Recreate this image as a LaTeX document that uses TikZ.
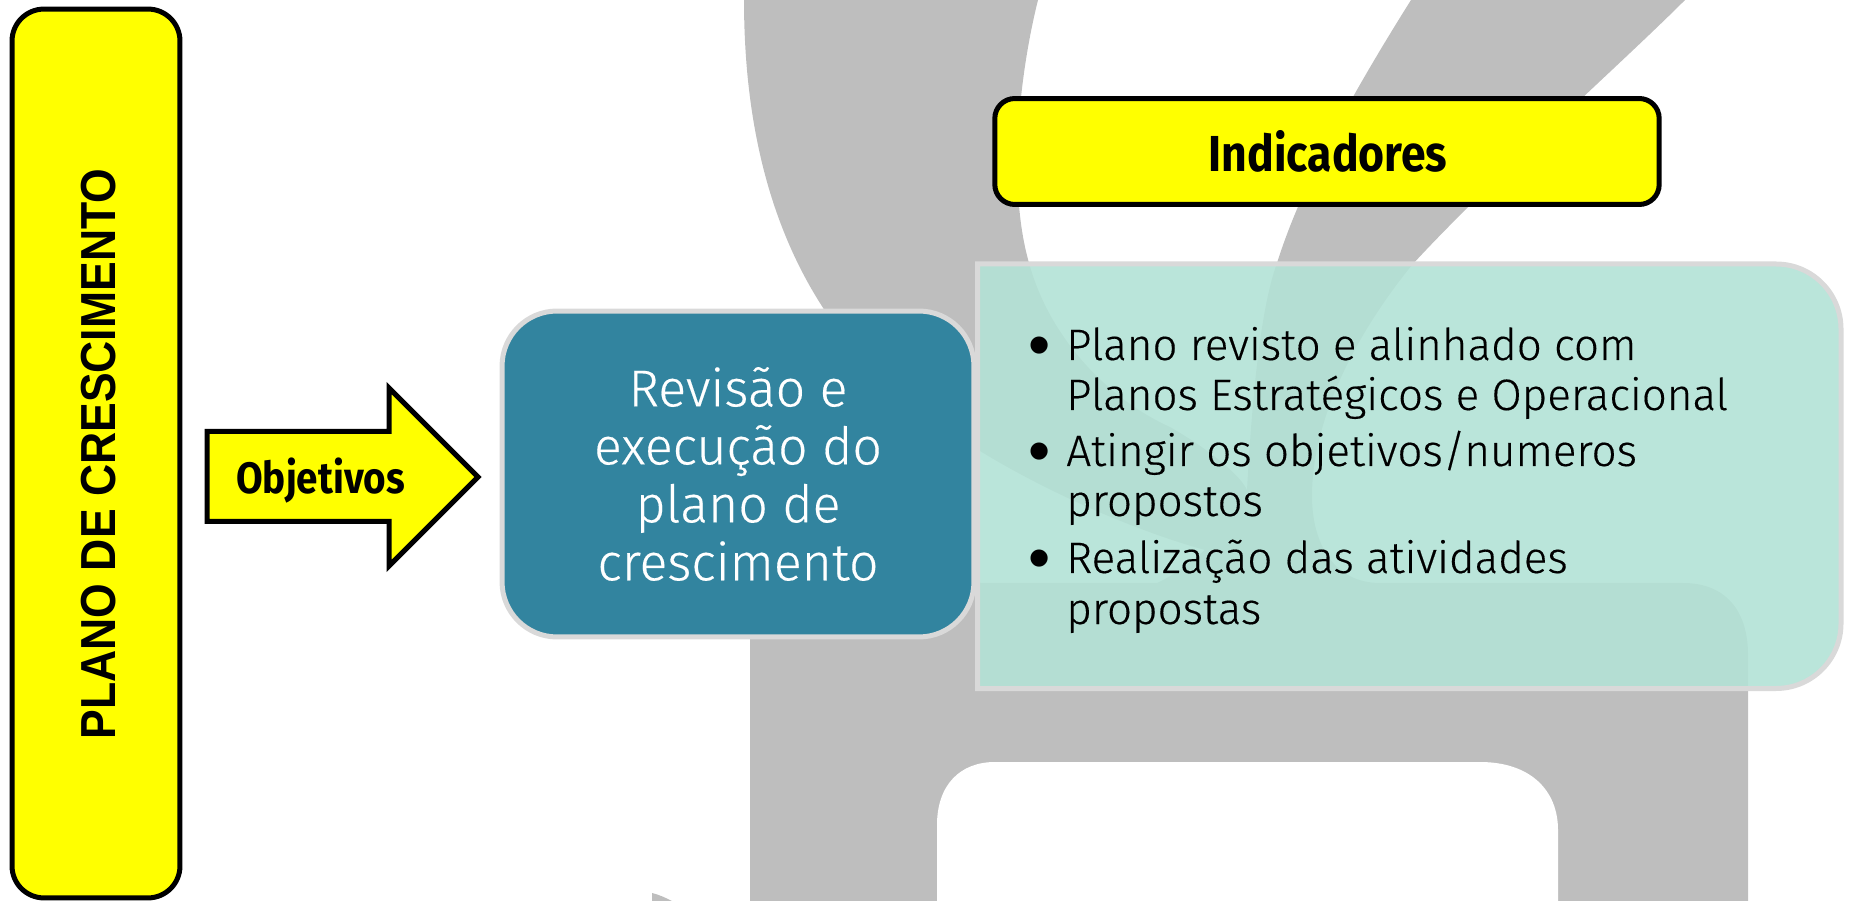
\documentclass[tikz,border=0pt]{standalone}
\usepackage{fontspec}
\setmainfont{Fira Sans Light}[FakeBold=0.3]
\newfontfamily\boldfont{Liberation Sans Bold}[FakeStretch=0.905]
\newfontfamily\narrowbold{Fira Sans Bold}[FakeStretch=0.88]
\newfontfamily\bulletfont{Liberation Sans}
\usepackage{xcolor}
\definecolor{amp}{HTML}{BEBEBE}
\definecolor{plan}{HTML}{FFFF00}
\definecolor{rev}{HTML}{32849F}
\definecolor{ind}{HTML}{B3E2D6}
\definecolor{edge}{HTML}{D9D9D9}
\tikzset{yellowbox/.style={draw=black,fill=plan,rectangle,rounded corners=0.4cm,line width=0.1cm,text=black}}
\tikzset{revbox/.style={draw=edge,fill=rev,rectangle,rounded corners=1.1cm,line width=0.1cm,text=white,align=center,font=\fontsize{29.5}{33}\selectfont}}
\tikzset{indbox/.style={draw=edge,fill=ind,fill opacity=0.9,line width=0.1cm}}
\tikzset{boldtext/.style={text=black,inner sep=0pt,anchor=base}}
\tikzset{itemtext/.style={text=black,inner sep=0pt,anchor=base west,align=left,font=\fontsize{25}{27.5}\selectfont}}
\tikzset{bulletmark/.style={text=black,inner sep=0pt,anchor=base,font=\bulletfont\fontsize{36}{38}\selectfont}}

\begin{document}
\begin{tikzpicture}[x=0.02cm,y=-0.02cm]
    \useasboundingbox (0,0) rectangle (1852,901);

    \fill[amp] (744,0) -- (1038,0) .. controls (1018,80) and (1008,190) .. (1029,263)
        .. controls (1050,340) and (1110,400) .. (1170,427)
        .. controls (1210,450) and (1240,475) .. (1247,490)
        .. controls (1252,400) and (1260,310) .. (1277,263)
        .. controls (1300,190) and (1345,105) .. (1411,0)
        -- (1685,0) .. controls (1620,65) and (1490,180) .. (1412,265)
        .. controls (1355,335) and (1312,420) .. (1312,496)
        .. controls (1312,545) and (1335,583) .. (1380,583)
        -- (1683,583) .. controls (1725,583) and (1748,610) .. (1748,655)
        -- (1748,901) -- (750,901) -- (750,583) -- (1157,583)
        .. controls (1175,575) and (1190,562) .. (1205,550)
        .. controls (1150,535) and (1060,500) .. (980,451)
        .. controls (860,385) and (744,260) .. (744,0) -- cycle;
    \fill[white] (937,901) -- (937,825) .. controls (937,785) and (960,762) .. (995,762)
        -- (1480,762) .. controls (1530,762) and (1558,790) .. (1558,830) -- (1558,901) -- cycle;
    \fill[amp] (652,901) -- (652,893) .. controls (660,895) and (666,898) .. (672,901) -- cycle;

    \node[yellowbox,minimum width=3.36cm,minimum height=17.78cm,rounded corners=0.64cm] (plano) at (96,453.5) {};
    \node[boldtext,rotate=90,font=\boldfont\fontsize{28}{30}\selectfont] (planotext) at (115,454) {PLANO DE CRESCIMENTO};

    \draw[line width=0.1cm,draw=black,fill=plan,miter limit=10] (207,431.5) -- (389,431.5) -- (389,388) -- (478,477)
        -- (389,566) -- (389,521.5) -- (207,521.5) -- cycle;
    \node[boldtext,font=\narrowbold\fontsize{25}{27}\selectfont] (objetivos) at (320.5,494) {Objetivos};

    \node[revbox,minimum width=9.44cm,minimum height=6.52cm] (rev) at (738,474) {Revisão e\\execução do\\plano de\\crescimento};

    \node[yellowbox,minimum width=13.29cm,minimum height=2.12cm] (indicadores) at (1327,151.5) {};
    \node[boldtext,font=\narrowbold\fontsize{28.8}{30}\selectfont] (indtext) at (1328,172) {Indicadores};

    \draw[indbox] (977.5,264) [rounded corners=1.3cm] -- (1841,264) -- (1841,688.5) [sharp corners] -- (977.5,688.5) -- cycle;

    \node[bulletmark] (bullet1) at (1040,366.5) {•};
    \node[bulletmark] (bullet2) at (1040,473) {•};
    \node[bulletmark] (bullet3) at (1040,580) {•};
    \node[itemtext] (item1) at (1066,360) {Plano revisto e alinhado com};
    \node[itemtext] (item1b) at (1066,410) {Planos Estratégicos e Operacional};
    \node[itemtext] (item2) at (1066,466) {Atingir os objetivos/numeros};
    \node[itemtext] (item2b) at (1066,516) {propostos};
    \node[itemtext] (item3) at (1066,573) {Realização das atividades};
    \node[itemtext] (item3b) at (1066,624) {propostas};
\end{tikzpicture}
\end{document}
